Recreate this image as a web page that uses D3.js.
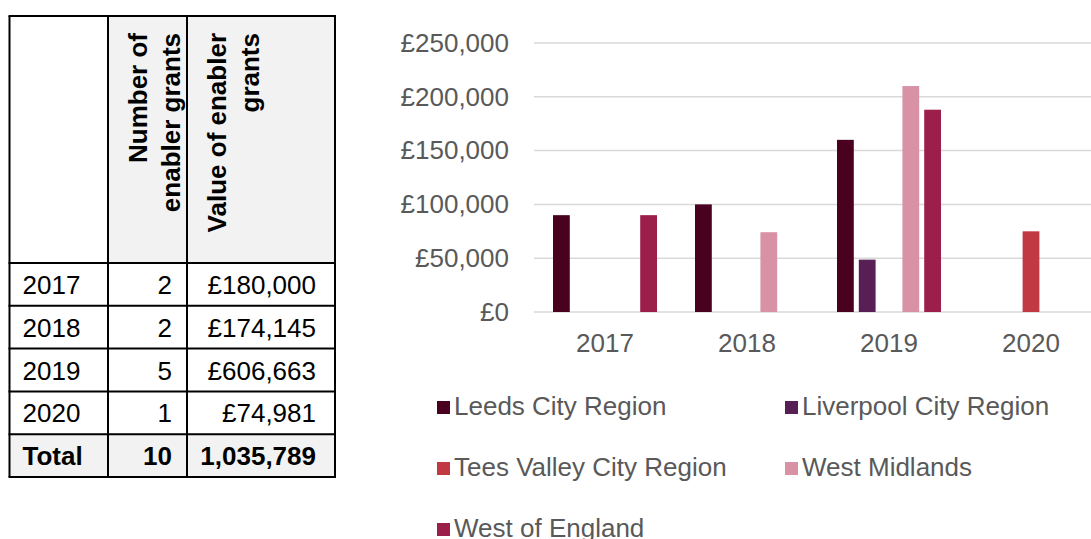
<!DOCTYPE html>
<html>
<head>
  <meta charset="utf-8">
  <title>Enabler grants</title>
  <script src="https://d3js.org/d3.v7.min.js"></script>
  <style type="text/css">
    body { margin: 0; background: #fff; }
    svg { display: block; font-family: "Liberation Sans", Arial, sans-serif; }
  </style>
</head>
<body>
  <div id="chart"></div>
<script type="text/javascript">
  // table data
  const tableYears = ['2017', '2018', '2019', '2020'];
  const grantCounts = [2, 2, 5, 1];
  const grantValues = ['£180,000', '£174,145', '£606,663', '£74,981'];
  const totalLabel = 'Total';
  const totalCount = 10;
  const totalValue = '1,035,789';
  const headerLines = [[], ['Number of', 'enabler grants'], ['Value of enabler', 'grants']];

  // chart data
  const years = ['2017', '2018', '2019', '2020'];
  const regions = ['Leeds City Region', 'Liverpool City Region', 'Tees Valley City Region', 'West Midlands', 'West of England'];
  const leeds = [90000, 100000, 160000, 0];
  const liverpool = [0, 0, 48663, 0];
  const teesValley = [0, 0, 0, 74981];
  const westMidlands = [0, 74145, 210000, 0];
  const westOfEngland = [90000, 0, 188000, 0];
  const yTicks = [0, 50000, 100000, 150000, 200000, 250000];
  const colors = ['#4a001f', '#571f53', '#c13942', '#d992a5', '#9c1e4a'];

  const seriesValues = [leeds, liverpool, teesValley, westMidlands, westOfEngland];

  const width = 1091, height = 539;
  const svg = d3.select('#chart').append('svg')
    .attr('width', width)
    .attr('height', height);

  // ---- table ----
  const colX = [9.5, 108, 187, 335];
  const tableTop = 16, headerH = 247, rowH = 42.8;
  const rowY = d3.range(6).map(i => i == 0 ? tableTop : tableTop + headerH + (i - 1) * rowH);
  rowY.push(tableTop + headerH + 5 * rowH);
  const table = svg.append('g');

  // header backgrounds (first cell stays white)
  table.append('rect')
    .attr('x', colX[1]).attr('y', tableTop)
    .attr('width', colX[3] - colX[1]).attr('height', headerH)
    .attr('fill', '#f2f2f2');
  // total row background
  table.append('rect')
    .attr('x', colX[0]).attr('y', rowY[5])
    .attr('width', colX[3] - colX[0]).attr('height', rowH)
    .attr('fill', '#f2f2f2');

  // header text, rotated
  headerLines.forEach((lines, c) => {
    lines.forEach((t, j) => {
      table.append('text')
        .attr('transform', `translate(${colX[c] + 39 + j * 33},33) rotate(-90)`)
        .attr('text-anchor', 'end')
        .attr('font-size', 26)
        .attr('font-weight', 'bold')
        .attr('fill', '#000')
        .text(t);
    });
  });

  const rows = tableYears.map((y, i) => ({ year: y, count: grantCounts[i], value: grantValues[i], bold: false }));
  rows.push({ year: totalLabel, count: totalCount, value: totalValue, bold: true });

  rows.forEach((r, i) => {
    const base = rowY[i + 1] + rowH / 2 + 9.5;
    const g = table.append('g')
      .attr('font-size', 26)
      .attr('fill', '#000')
      .attr('font-weight', r.bold ? 'bold' : 'normal');
    g.append('text').attr('x', colX[0] + 13).attr('y', base).text(r.year);
    g.append('text').attr('x', colX[2] - 15).attr('y', base).attr('text-anchor', 'end').text(r.count);
    g.append('text').attr('x', colX[3] - 19).attr('y', base).attr('text-anchor', 'end').text(r.value);
  });

  // grid lines of the table
  rowY.forEach((y, i) => {
    table.append('line')
      .attr('x1', colX[0] - 1).attr('x2', colX[3] + 1)
      .attr('y1', y).attr('y2', y)
      .attr('stroke', '#000').attr('stroke-width', 2);
  });
  colX.forEach(x => {
    table.append('line')
      .attr('x1', x).attr('x2', x)
      .attr('y1', tableTop).attr('y2', rowY[rowY.length - 1])
      .attr('stroke', '#000').attr('stroke-width', 2);
  });

  // ---- bar chart ----
  const plotLeft = 534, plotRight = 1102, plotTop = 43, plotBottom = 312;
  const y = d3.scaleLinear().domain([0, 250000]).range([plotBottom, plotTop]);
  const x0 = d3.scaleBand().domain(years).range([plotLeft, plotRight]);
  const x1 = d3.scaleBand().domain(regions).range([19, x0.bandwidth() - 19]).paddingInner(0.23);
  const fmt = d => '£' + d3.format(',')(d);

  const chart = svg.append('g');

  chart.append('g')
    .selectAll('line').data(yTicks).enter()
    .append('line')
      .attr('x1', plotLeft).attr('x2', plotRight)
      .attr('y1', d => y(d)).attr('y2', d => y(d))
      .attr('stroke', '#d9d9d9').attr('stroke-width', 1.5);

  const yAxis = chart.append('g')
    .attr('transform', `translate(${plotLeft - 25},0)`)
    .call(d3.axisLeft(y).tickValues(yTicks).tickFormat(fmt).tickSize(0).tickPadding(0));
  yAxis.select('.domain').remove();
  yAxis.selectAll('text')
    .attr('font-size', 26)
    .attr('font-family', '"Liberation Sans", Arial, sans-serif')
    .attr('fill', '#595959');

  const xAxis = chart.append('g')
    .attr('transform', `translate(0,${plotBottom})`)
    .call(d3.axisBottom(x0).tickSize(0).tickPadding(22));
  xAxis.select('.domain').remove();
  xAxis.selectAll('text')
    .attr('font-size', 26)
    .attr('font-family', '"Liberation Sans", Arial, sans-serif')
    .attr('fill', '#595959');

  const barData = [];
  years.forEach((yr, i) => {
    regions.forEach((r, k) => {
      if (seriesValues[k][i] > 0) barData.push({ year: yr, region: r, value: seriesValues[k][i], color: colors[k] });
    });
  });

  chart.append('g')
    .selectAll('rect').data(barData).enter()
    .append('rect')
      .attr('x', d => x0(d.year) + x1(d.region))
      .attr('y', d => y(d.value))
      .attr('width', x1.bandwidth())
      .attr('height', d => y(0) - y(d.value))
      .attr('fill', d => d.color);

  // ---- legend ----
  const legendCols = [437, 785];
  const legendRows = [415, 476, 537];
  const legend = svg.append('g');
  regions.forEach((r, k) => {
    const lx = legendCols[k % 2];
    const ly = legendRows[Math.floor(k / 2)];
    legend.append('rect')
      .attr('x', lx).attr('y', ly - 14)
      .attr('width', 13).attr('height', 13)
      .attr('fill', colors[k]);
    legend.append('text')
      .attr('x', lx + 17).attr('y', ly)
      .attr('font-size', 26)
      .attr('fill', '#595959')
      .text(r);
  });
</script>
</body>
</html>
